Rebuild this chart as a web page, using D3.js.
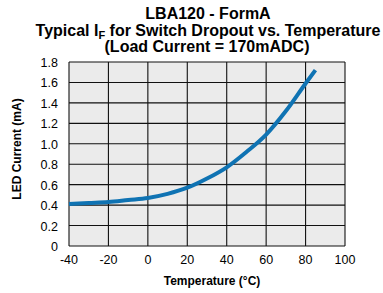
<!DOCTYPE html>
<html>
<head>
<meta charset="utf-8">
<script src="https://cdn.jsdelivr.net/npm/d3@7"></script>
<style>
  body { margin: 0; background: #fff; }
  text { font-family: "Liberation Sans", Arial, sans-serif; }
</style>
</head>
<body>
<div id="chart"></div>
<script>
// data
var temps = [-40, -30, -20, -10, 0, 10, 20, 30, 40, 50, 60, 70, 80, 85];
var ledCurrent = [0.41, 0.42, 0.43, 0.45, 0.47, 0.51, 0.57, 0.66, 0.77, 0.92, 1.09, 1.32, 1.59, 1.72];
var xTicks = [-40, -20, 0, 20, 40, 60, 80, 100];
var yTicks = [0, 0.2, 0.4, 0.6, 0.8, 1.0, 1.2, 1.4, 1.6, 1.8];

var svg = d3.select("#chart")
    .append("svg")
    .attr("width", 383)
    .attr("height", 293);

var x = d3.scaleLinear().domain([-40, 100]).range([69, 345]);
var y = d3.scaleLinear().domain([0, 1.8]).range([246, 62]);

// plot background
svg.append("rect")
    .attr("x", x(-40))
    .attr("y", y(1.8))
    .attr("width", x(100) - x(-40))
    .attr("height", y(0) - y(1.8))
    .style("fill", "#ebebeb");

// grid
svg.selectAll(".vgrid")
    .data(xTicks)
    .enter().append("line")
    .attr("x1", d => x(d)).attr("x2", d => x(d))
    .attr("y1", y(0)).attr("y2", y(1.8))
    .style("stroke", "#111")
    .style("stroke-width", 1.1);

svg.selectAll(".hgrid")
    .data(yTicks)
    .enter().append("line")
    .attr("x1", x(-40)).attr("x2", x(100))
    .attr("y1", d => y(d)).attr("y2", d => y(d))
    .style("stroke", "#111")
    .style("stroke-width", 1.1);

// tick labels
svg.selectAll(".xlab")
    .data(xTicks)
    .enter().append("text")
    .attr("x", d => x(d))
    .attr("y", 264)
    .attr("text-anchor", "middle")
    .style("font-size", "12.5px")
    .text(d => d);

svg.selectAll(".ylab")
    .data(yTicks)
    .enter().append("text")
    .attr("x", 58)
    .attr("y", d => y(d) + 5)
    .attr("text-anchor", "end")
    .style("font-size", "12.5px")
    .text(d => d === 0 ? "0" : d3.format(".1f")(d));

// the curve
var line = d3.line()
    .x((d, i) => x(temps[i]))
    .y(d => y(d))
    .curve(d3.curveMonotoneX);

svg.append("path")
    .datum(ledCurrent)
    .attr("d", line)
    .style("fill", "none")
    .style("stroke", "#0f73b3")
    .style("stroke-width", 4);

// titles
svg.append("text")
    .attr("x", 208).attr("y", 19)
    .attr("text-anchor", "middle")
    .style("font-size", "16px").style("font-weight", "bold")
    .text("LBA120 - FormA");

var t2 = svg.append("text")
    .attr("x", 208).attr("y", 35.5)
    .attr("text-anchor", "middle")
    .style("font-size", "16px").style("font-weight", "bold");
t2.append("tspan").text("Typical I");
t2.append("tspan").attr("dy", 3).style("font-size", "11px").text("F");
t2.append("tspan").attr("dy", -3).text(" for Switch Dropout vs. Temperature");

svg.append("text")
    .attr("x", 207).attr("y", 52)
    .attr("text-anchor", "middle")
    .style("font-size", "16px").style("font-weight", "bold")
    .text("(Load Current = 170mADC)");

svg.append("text")
    .attr("x", 212).attr("y", 285)
    .attr("text-anchor", "middle")
    .style("font-size", "12px").style("font-weight", "bold")
    .text("Temperature (\u00B0C)");

svg.append("text")
    .attr("transform", "translate(21,149) rotate(-90)")
    .attr("text-anchor", "middle")
    .style("font-size", "12px").style("font-weight", "bold")
    .text("LED Current (mA)");
</script>
</body>
</html>
